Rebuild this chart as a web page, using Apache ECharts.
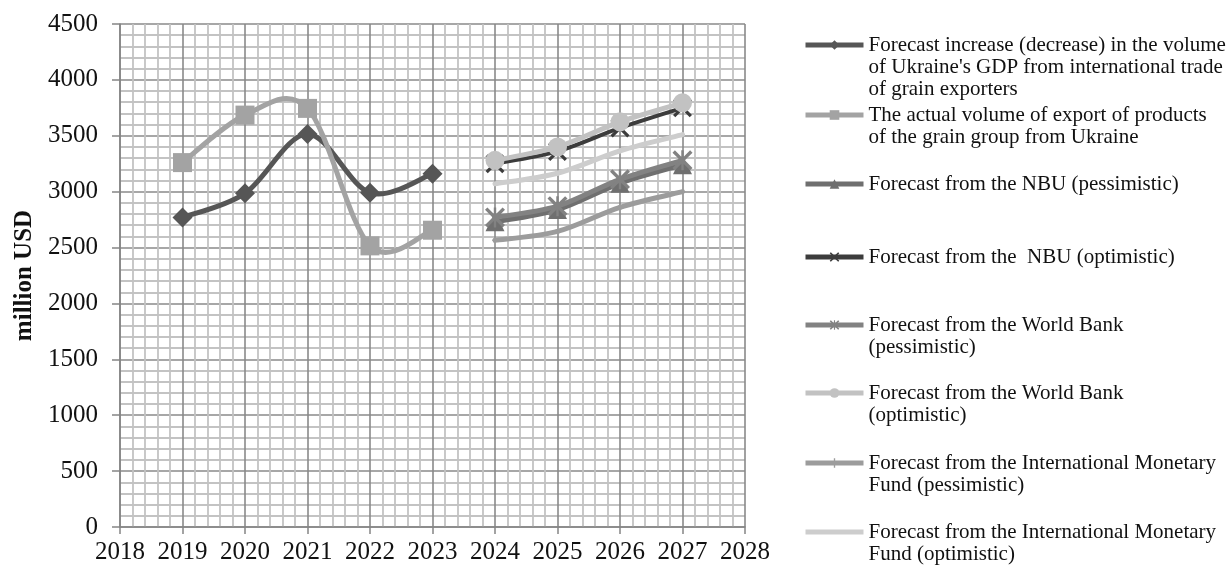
<!DOCTYPE html>
<html>
<head>
<meta charset="utf-8">
<script src="https://cdn.jsdelivr.net/npm/echarts@6/dist/echarts.min.js"></script>
<style>
html,body{margin:0;padding:0;background:#fff;}
#chart{width:1230px;height:568px;}
</style>
</head>
<body>
<div id="chart"></div>
<script>
// ---- data ----
const pastYears = [2019, 2020, 2021, 2022, 2023];
const forecastYears = [2024, 2025, 2026, 2027];
const gdpForecast = [2770, 2985, 3515, 2990, 3160];
const actualExport = [3260, 3685, 3745, 2515, 2655];
const nbuPessimistic = [2730, 2840, 3075, 3240];
const nbuOptimistic = [3250, 3360, 3570, 3750];
const wbPessimistic = [2770, 2870, 3110, 3280];
const wbOptimistic = [3280, 3400, 3625, 3795];
const imfPessimistic = [2565, 2645, 2860, 3000];
const imfOptimistic = [3070, 3165, 3365, 3510];
const yTicks = [0, 500, 1000, 1500, 2000, 2500, 3000, 3500, 4000, 4500];
const xTicks = [2018, 2019, 2020, 2021, 2022, 2023, 2024, 2025, 2026, 2027, 2028];
const legendLabels = [
  "Forecast increase (decrease) in the volume\nof Ukraine's GDP from international trade\nof grain exporters",
  "The actual volume of export of products\nof the grain group from Ukraine",
  "Forecast from the NBU (pessimistic)",
  "Forecast from the  NBU (optimistic)",
  "Forecast from the World Bank\n(pessimistic)",
  "Forecast from the World Bank\n(optimistic)",
  "Forecast from the International Monetary\nFund (pessimistic)",
  "Forecast from the International Monetary\nFund (optimistic)"
];
const yAxisTitle = "million USD";

// ---- styling ----
const FONT = '"Liberation Serif", "Times New Roman", serif';
const names = legendLabels.map(s => s.replace(/\n/g, ' '));
const pair = (xs, ys) => xs.map((x, i) => [x, ys[i]]);

const X_PATH = 'path://M0,1.2L1.2,0L5,3.8L8.8,0L10,1.2L6.2,5L10,8.8L8.8,10L5,6.2L1.2,10L0,8.8L3.8,5Z';
const STAR_PATH = 'path://M0,1.2L1.2,0L5,3.8L8.8,0L10,1.2L6.2,5L10,8.8L8.8,10L5,6.2L1.2,10L0,8.8L3.8,5Z M4.4,0L5.6,0L5.6,10L4.4,10Z';
const PLUS_PATH = 'path://M4.3,0L5.7,0L5.7,10L4.3,10Z M0,4.3L10,4.3L10,5.7L0,5.7Z';

const seriesDefs = [
  {data: pair(pastYears, gdpForecast), color: '#565656', symbol: 'diamond', size: 20, width: 5},
  {data: pair(pastYears, actualExport), color: '#a3a3a3', symbol: 'rect', size: 19, width: 5},
  {data: pair(forecastYears, nbuPessimistic), color: '#6f6f6f', symbol: 'triangle', size: 19, width: 5},
  {data: pair(forecastYears, nbuOptimistic), color: '#3c3c3c', symbol: X_PATH, size: 19, width: 4},
  {data: pair(forecastYears, wbPessimistic), color: '#828282', symbol: STAR_PATH, size: 20, width: 5},
  {data: pair(forecastYears, wbOptimistic), color: '#c2c2c2', symbol: 'circle', size: 19, width: 5},
  {data: pair(forecastYears, imfPessimistic), color: '#9c9c9c', symbol: PLUS_PATH, size: 6, width: 5},
  {data: pair(forecastYears, imfOptimistic), color: '#cdcdcd', symbol: 'none', size: 0, width: 5}
];

// Excel-like smoothed curve (Catmull-Rom -> cubic Bezier), drawn through the axis scales
function curveSeries(d, i) {
  const pts = d.data;
  return {
    type: 'custom',
    coordinateSystem: 'cartesian2d',
    data: pts,
    silent: true,
    clip: true,
    z: 2 + 2 * i,
    renderItem: function (params, api) {
      const k = params.dataIndex;
      if (k >= pts.length - 1) return null;
      const P = j => api.coord(pts[Math.max(0, Math.min(pts.length - 1, j))]);
      const p0 = P(k - 1), p1 = P(k), p2 = P(k + 1), p3 = P(k + 2);
      const t = 1 / 6;
      return {
        type: 'bezierCurve',
        shape: {
          x1: p1[0], y1: p1[1], x2: p2[0], y2: p2[1],
          cpx1: p1[0] + (p2[0] - p0[0]) * t, cpy1: p1[1] + (p2[1] - p0[1]) * t,
          cpx2: p2[0] - (p3[0] - p1[0]) * t, cpy2: p2[1] - (p3[1] - p1[1]) * t
        },
        style: {stroke: d.color, lineWidth: d.width, fill: null, lineCap: 'round'}
      };
    }
  };
}

const series = [];
seriesDefs.forEach((d, i) => {
  series.push(curveSeries(d, i));
  series.push({
    name: names[i],
    type: 'line',
    data: d.data,
    symbol: d.symbol === 'none' ? 'circle' : d.symbol,
    symbolSize: d.size,
    showSymbol: d.symbol !== 'none',
    lineStyle: {color: d.color, width: d.width, opacity: 0},
    itemStyle: {color: d.color, borderColor: d.color, borderWidth: 0},
    z: 3 + 2 * i,
    animation: false
  });
});

const iconCenters = [45, 115, 184, 257, 325, 393, 463, 532];
const LH = 22;
const legends = legendLabels.map((lab, i) => {
  const n = lab.split('\n').length;
  const shown = '\n'.repeat(n - 1) + lab;   // keeps the icon level with the first text line
  const noMarker = seriesDefs[i].symbol === 'none';
  return {
    data: [names[i]],
    left: 803,
    top: iconCenters[i] - (2 * n - 1) * LH / 2,
    orient: 'vertical',
    itemWidth: 58,
    itemHeight: 12,
    padding: 0,
    selectedMode: false,
    formatter: () => shown,
    lineStyle: {color: seriesDefs[i].color, width: 5, opacity: 1},
    itemStyle: noMarker ? {opacity: 0} : {},
    textStyle: {fontFamily: FONT, fontSize: 21, color: '#111', lineHeight: LH}
  };
});

const chart = echarts.init(document.getElementById('chart'), null, {renderer: 'canvas'});
chart.setOption({
  backgroundColor: '#ffffff',
  animation: false,
  textStyle: {fontFamily: FONT},
  grid: {left: 120, right: 485, top: 24, bottom: 41, containLabel: false},
  legend: legends,
  xAxis: {
    type: 'value',
    min: xTicks[0],
    max: xTicks[xTicks.length - 1],
    interval: 1,
    axisLine: {show: true, lineStyle: {color: '#858585', width: 1.5}},
    axisTick: {show: true, length: 7, lineStyle: {color: '#858585', width: 1.5}},
    axisLabel: {fontFamily: FONT, fontSize: 25, color: '#111', margin: 13,
      formatter: v => String(v)},
    splitLine: {show: true, lineStyle: {color: '#8a8a8a', width: 1.6}},
    minorTick: {show: false, splitNumber: 5},
    minorSplitLine: {show: true, lineStyle: {color: '#c3c3c3', width: 1.8}}
  },
  yAxis: {
    type: 'value',
    min: yTicks[0],
    max: yTicks[yTicks.length - 1],
    interval: 500,
    name: yAxisTitle,
    nameLocation: 'middle',
    nameRotate: 90,
    nameGap: 82,
    nameTextStyle: {fontFamily: FONT, fontSize: 25, fontWeight: 'bold', color: '#111'},
    axisLine: {show: true, lineStyle: {color: '#858585', width: 1.5}},
    axisTick: {show: true, length: 8, lineStyle: {color: '#858585', width: 1.5}},
    axisLabel: {fontFamily: FONT, fontSize: 25, color: '#111', margin: 22,
      formatter: v => String(v)},
    splitLine: {show: true, lineStyle: {color: '#8a8a8a', width: 1.6}},
    minorTick: {show: false, splitNumber: 5},
    minorSplitLine: {show: true, lineStyle: {color: '#c3c3c3', width: 1.8}}
  },
  series: series
});
</script>
</body>
</html>
